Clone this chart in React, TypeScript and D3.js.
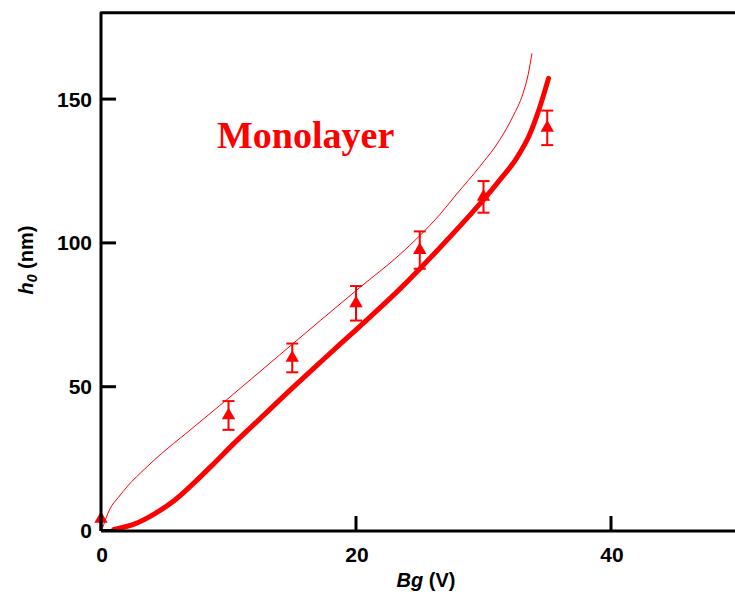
import React from "react";
import * as d3 from "d3";

const pointX = [0, 10, 15, 20, 25, 30, 35];
const pointY = [4, 40, 60, 79, 97.5, 116, 140];
const pointErr = [0, 5, 5, 6, 6.5, 5.5, 6];

const thickX = [1.0, 2.7, 4.2, 5.8, 7.4, 8.9, 10.25, 12.5, 15, 17.2, 20.3, 23.45, 26.3, 28.7, 30, 31.3, 32.6, 33.6, 34.4, 35.1];
const thickY = [0.4, 2.4, 5.8, 10.6, 17, 23.5, 29.5, 39, 49.5, 58.5, 71, 84, 97, 108.5, 115, 122, 129.5, 137.5, 147, 157.2];

const thinX = [0.05, 0.7, 1.36, 2.1, 3.45, 4.76, 6.6, 9.6, 14, 17.2, 20.3, 23.45, 25, 26.6, 27.9, 29.7, 31.3, 32.3, 33.1, 33.5, 33.8];
const thinY = [0, 7.5, 11.5, 15.5, 21.5, 26.8, 33.5, 44.5, 61, 73, 84.5, 96, 102.5, 110, 117, 126.5, 136, 143.9, 152, 158.5, 165.9];

const xTicks = [0, 20, 40];
const yTicks = [0, 50, 100, 150];

export default function App() {
  const x = d3.scaleLinear().domain([0, 50]).range([101, 738.5]);
  const y = d3.scaleLinear().domain([0, 180]).range([530.5, 12.8]);
  const red = "#ff0000";
  const line = d3
    .line<[number, number]>()
    .x((d) => x(d[0]))
    .y((d) => y(d[1]))
    .curve(d3.curveMonotoneX);
  const thick = thickX.map((v, i) => [v, thickY[i]] as [number, number]);
  const thin = thinX.map((v, i) => [v, thinY[i]] as [number, number]);
  const tri = d3.symbol().type(d3.symbolTriangle).size(78)() as string;
  const x0 = x(0);
  const yTop = y(180);
  const yBase = y(0) + 0.5;
  const font = "'Liberation Sans', Arial, sans-serif";

  return (
    <svg
      width={735}
      height={595}
      style={{ position: "absolute", left: 0, top: 0, background: "#fff" }}
    >
      <path d={line(thin) || ""} fill="none" stroke={red} strokeWidth={1} />
      <path d={line(thick) || ""} fill="none" stroke={red} strokeWidth={5} strokeLinecap="round" />
      {pointX.map((px, i) => {
        const cx = x(px);
        const cy = y(pointY[i]);
        const e = pointErr[i];
        return (
          <g key={i}>
            {e > 0 && (
              <g stroke={red} strokeWidth={2}>
                <line x1={cx} x2={cx} y1={y(pointY[i] + e)} y2={y(pointY[i] - e)} />
                <line x1={cx - 6} x2={cx + 6} y1={y(pointY[i] + e)} y2={y(pointY[i] + e)} />
                <line x1={cx - 6} x2={cx + 6} y1={y(pointY[i] - e)} y2={y(pointY[i] - e)} />
              </g>
            )}
            <path d={tri} transform={`translate(${cx},${cy})`} fill={red} />
          </g>
        );
      })}
      <path
        d={`M${x0},${yBase} V${yTop} H735`}
        fill="none"
        stroke="#000"
        strokeWidth={3}
        strokeLinejoin="round"
      />
      <line x1={x0} x2={735} y1={yBase} y2={yBase} stroke="#000" strokeWidth={3} />
      {yTicks.map((t) => (
        <g key={"y" + t}>
          <line x1={x0} x2={x0 + 15} y1={y(t)} y2={y(t)} stroke="#000" strokeWidth={3} />
          <text
            x={92}
            y={y(t)}
            dy="0.36em"
            textAnchor="end"
            fontFamily={font}
            fontWeight="bold"
            fontSize={21}
          >
            {t}
          </text>
        </g>
      ))}
      {xTicks.map((t) => (
        <g key={"x" + t}>
          <line x1={x(t)} x2={x(t)} y1={yBase} y2={yBase - 15} stroke="#000" strokeWidth={3} />
          <text
            x={x(t) + 1}
            y={562}
            textAnchor="middle"
            fontFamily={font}
            fontWeight="bold"
            fontSize={21}
          >
            {t}
          </text>
        </g>
      ))}
      <text x={426} y={587} textAnchor="middle" fontFamily={font} fontWeight="bold" fontSize={20}>
        <tspan fontStyle="italic">Bg</tspan>
        <tspan> (V)</tspan>
      </text>
      <text
        transform="translate(33,260) rotate(-90)"
        textAnchor="middle"
        fontFamily={font}
        fontWeight="bold"
        fontSize={20}
      >
        <tspan fontStyle="italic">h</tspan>
        <tspan fontStyle="italic" fontSize={14} dy={4}>0</tspan>
        <tspan dy={-4}> (nm)</tspan>
      </text>
      <text
        x={217}
        y={148}
        fill={red}
        fontFamily="'Liberation Serif', 'Times New Roman', serif"
        fontWeight="bold"
        fontSize={38}
      >
        Monolayer
      </text>
    </svg>
  );
}
